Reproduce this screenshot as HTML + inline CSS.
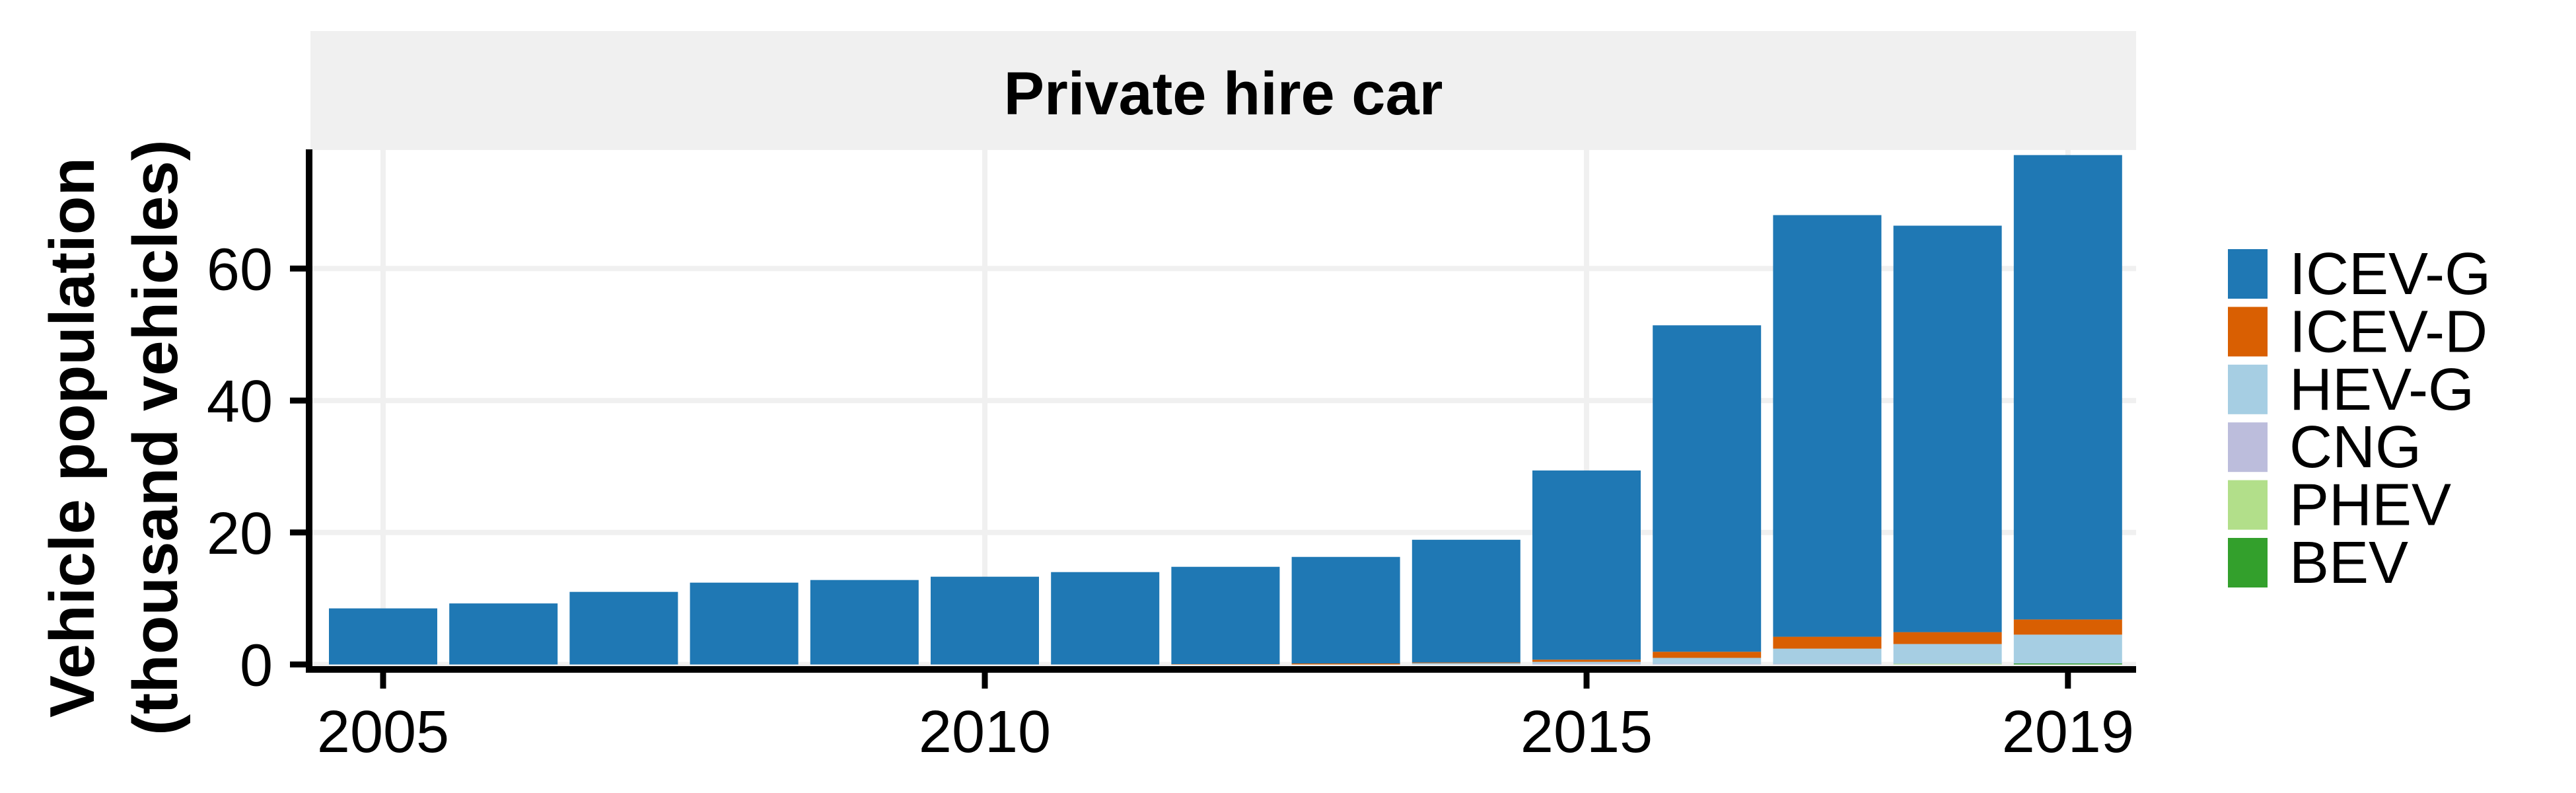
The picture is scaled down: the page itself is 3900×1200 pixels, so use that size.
<!DOCTYPE html>
<html><head><meta charset="utf-8"><style>
html,body{margin:0;padding:0;background:#fff}
svg{display:block}
text{font-family:"Liberation Sans",Arial,sans-serif}
</style></head><body>
<svg id="chart" width="3900" height="1200" viewBox="0 0 3900 1200" xmlns="http://www.w3.org/2000/svg">
<rect width="3900" height="1200" fill="#fff"/>
<rect x="470" y="47" width="2764" height="180" fill="#f0f0f0"/>
<text x="1852" y="173" font-size="92" font-weight="bold" text-anchor="middle">Private hire car</text>
<g id="grid"></g>
<g id="bars"></g>
<g id="axes"></g>
<g id="legend"></g>
<text transform="translate(0,662) rotate(-90)" font-size="96" font-weight="bold" text-anchor="middle"><tspan x="0" y="142">Vehicle population</tspan><tspan x="0" y="268">(thousand vehicles)</tspan></text>
</svg>
<script>
const years = [2005,2006,2007,2008,2009,2010,2011,2012,2013,2014,2015,2016,2017,2018,2019];
const totals = [8.5,9.25,11.0,12.4,12.8,13.3,14.0,14.8,16.3,18.9,29.4,51.4,68.1,66.5,77.2];
const icevD = [0,0,0,0,0,0,0,0.05,0.15,0.1,0.33,0.93,1.8,1.8,2.3];
const hevG = [0,0,0,0,0,0,0,0,0,0.2,0.25,0.9,2.3,3.0,4.37];
const cng = [0,0,0,0,0,0,0,0,0,0,0.15,0.1,0.1,0,0];
const phev = [0,0,0,0,0,0,0,0,0,0,0,0,0,0.1,0];
const bev = [0,0,0,0,0,0,0,0,0,0,0,0,0,0,0.15];
const seriesNames = ["ICEV-G","ICEV-D","HEV-G","CNG","PHEV","BEV"];
const seriesColors = ["#1f78b4","#d95f02","#a6cee3","#bcbddc","#b2df8a","#33a02c"];
const yTicks = [0,20,40,60];
const xTicks = [2005,2010,2015,2019];

const NS="http://www.w3.org/2000/svg";
const X0=470,X1=3234,Y0=1005.5,YT=226,STEP=182.2;
function xs(yr){return 580+(yr-2005)*STEP;}
function ys(v){return Y0-v*9.985;}
function mk(tag,attrs,parent){const e=document.createElementNS(NS,tag);for(const k in attrs)e.setAttribute(k,attrs[k]);parent.appendChild(e);return e;}
const grid=document.getElementById('grid'),bars=document.getElementById('bars'),axes=document.getElementById('axes'),leg=document.getElementById('legend');
yTicks.forEach(t=>{
  const l=mk('line',{x1:X0,x2:X1,y1:ys(t),y2:ys(t),stroke:'#f0f0f0','stroke-width':8},grid);
  
  
  const tk=mk('line',{x1:439,x2:470,y1:ys(t),y2:ys(t),stroke:'#000','stroke-width':9},axes);
  
  
  const tx=mk('text',{x:413,y:ys(t)+32,'font-size':90,'text-anchor':'end'},axes);
  tx.textContent=t;
  
  
});
xTicks.forEach(t=>{
  const l=mk('line',{x1:xs(t),x2:xs(t),y1:YT,y2:1010,stroke:'#f0f0f0','stroke-width':8},grid);
  
  
  const tk=mk('line',{x1:xs(t),x2:xs(t),y1:1010,y2:1042,stroke:'#000','stroke-width':9},axes);
  
  
  const tx=mk('text',{x:xs(t),y:1138,'font-size':90,'text-anchor':'middle'},axes);
  tx.textContent=t;
  
  
});
years.forEach((yr,i)=>{
  const others=[icevD[i],hevG[i],cng[i],phev[i],bev[i]];
  const g=totals[i]-others.reduce((a,b)=>a+b,0);
  const vals=[g].concat(others);
  let base=0;
  for(let s=vals.length-1;s>=0;s--){
    const v=vals[s]; if(v<=0) continue;
    const r=mk('rect',{x:xs(yr)-82,width:164,y:ys(base+v),height:ys(base)-ys(base+v),fill:seriesColors[s]},bars);
    
    
    base+=v;
  }
});
const ya=mk('line',{x1:468,x2:468,y1:YT,y2:1018,stroke:'#000','stroke-width':10},axes);


const xa=mk('line',{x1:463,x2:X1,y1:1013,y2:1013,stroke:'#000','stroke-width':10},axes);


seriesNames.forEach((n,i)=>{
  const y=377+i*87.4;
  const r=mk('rect',{x:3373,y:y,width:60,height:75,fill:seriesColors[i]},leg);
  
  
  const t=mk('text',{x:3466,y:y+68,'font-size':90},leg);
  t.textContent=n;
  
  
});
</script>
</body></html>
